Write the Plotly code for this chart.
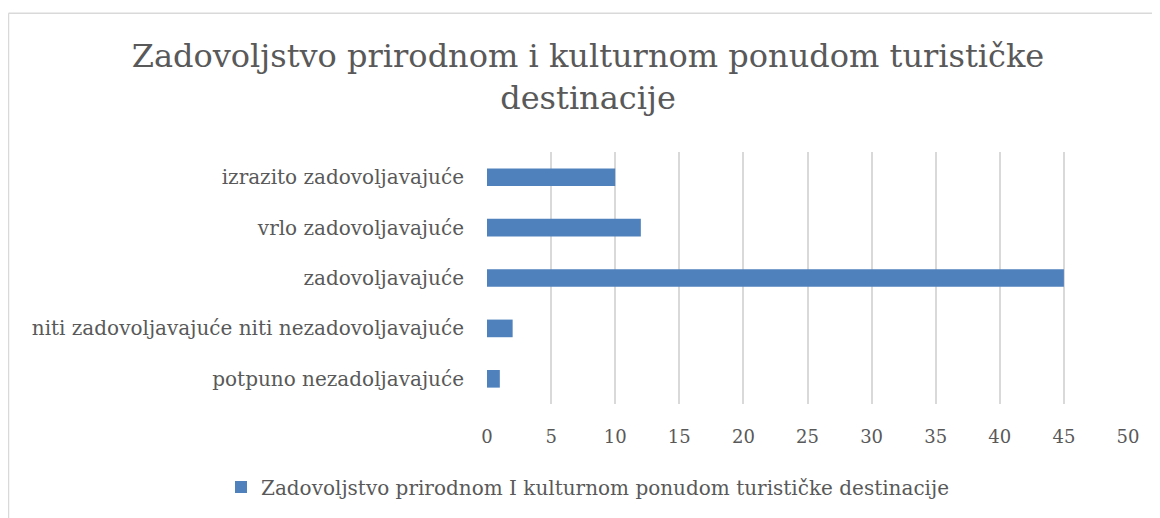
"""
Zadovoljstvo prirodnom i kulturnom ponudom - horizontalni stupčasti graf.
"""
import plotly.graph_objects as go

# Podaci (od dna prema vrhu)
kategorije = [
    "potpuno nezadoljavajuće",
    "niti zadovoljavajuće niti nezadovoljavajuće",
    "zadovoljavajuće",
    "vrlo zadovoljavajuće",
    "izrazito zadovoljavajuće",
]
vrijednosti = [1, 2, 45, 12, 10]
x_tickovi = [0, 5, 10, 15, 20, 25, 30, 35, 40, 45, 50]

naslov = "Zadovoljstvo prirodnom i kulturnom ponudom turističke<br>destinacije"
naziv_serije = "Zadovoljstvo prirodnom I kulturnom ponudom turističke destinacije"

# stranica ima 8px margine na body elementu
OFF = 8
W, H = 1160 - OFF, 518 - OFF
L = 487 - OFF
R = W - (1128 - OFF)
T = 152 - OFF
B = H - (407 - OFF)
FONT = "DejaVu Serif"
SIVA = "#595959"

fig = go.Figure()
fig.add_trace(go.Bar(
    x=vrijednosti,
    y=kategorije,
    orientation="h",
    name=naziv_serije,
    marker=dict(color="#4f81bd", line=dict(width=0)),
    width=0.35,
    showlegend=True,
))

# okvir grafikona (gornja i lijeva linija), u pikselima stranice
pw, ph = W - L - R, H - T - B
def px_x(p):
    return (p - OFF - L) / pw
def px_y(p):
    return (H - B - (p - OFF)) / ph

fig.add_shape(type="line", xref="paper", yref="paper",
              x0=px_x(8.5), x1=px_x(1300), y0=px_y(11.5), y1=px_y(11.5),
              line=dict(color="#d9d9d9", width=1.5))
fig.add_shape(type="line", xref="paper", yref="paper",
              x0=px_x(8.5), x1=px_x(8.5), y0=px_y(11.5), y1=px_y(700),
              line=dict(color="#d9d9d9", width=1.5))

fig.update_layout(
    width=W, height=H,
    margin=dict(l=L, r=R, t=T, b=B),
    paper_bgcolor="white",
    plot_bgcolor="white",
    font=dict(family=FONT, color=SIVA, size=20),
    title=dict(
        text=naslov,
        font=dict(family=FONT, size=32, color=SIVA),
        x=(588 - OFF) / W, xanchor="center",
        y=1 - (67 - OFF) / H, yanchor="middle", yref="container",
    ),
    xaxis=dict(
        range=[0, 50],
        tickvals=x_tickovi,
        showgrid=True, gridcolor="#d9d9d9", gridwidth=1.5,
        zeroline=False, showline=False,
        ticks="", ticklabelstandoff=20,
        tickfont=dict(size=18, color=SIVA),
    ),
    yaxis=dict(
        showgrid=False, zeroline=False, showline=False,
        ticks="", ticklabelstandoff=22,
        tickfont=dict(size=20, color=SIVA),
    ),
    legend=dict(
        orientation="h",
        x=px_x(588), xanchor="center",
        y=px_y(491), yanchor="middle",
        font=dict(size=20, color=SIVA),
        itemwidth=30,
    ),
    bargap=0.65,
)

fig.write_html("out.html")
